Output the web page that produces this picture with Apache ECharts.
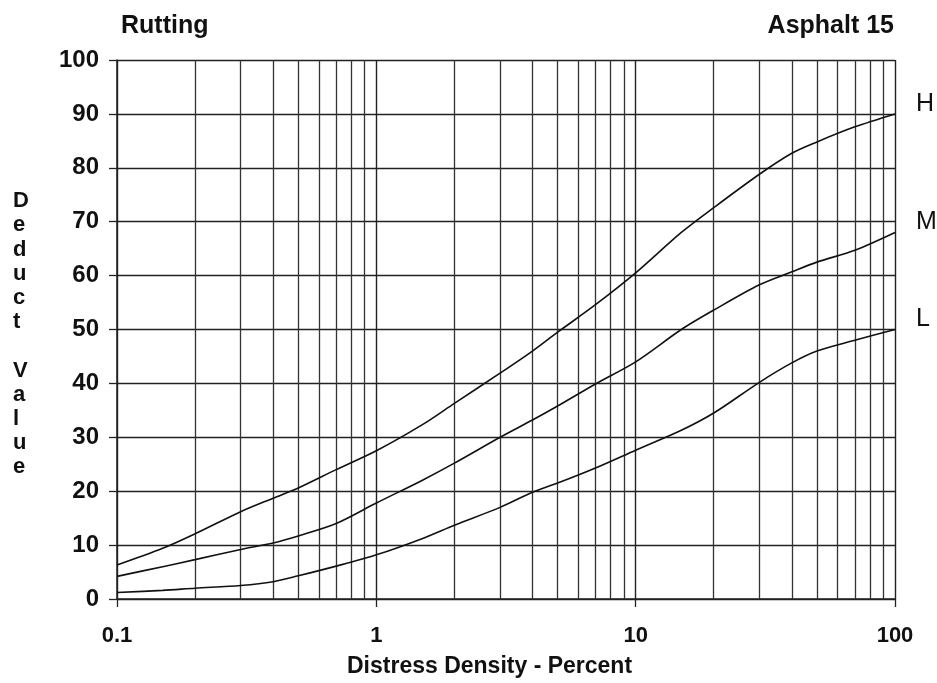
<!DOCTYPE html>
<html>
<head>
<meta charset="utf-8">
<script src="https://cdn.jsdelivr.net/npm/echarts@6/dist/echarts.min.js"></script>
<style>html,body{margin:0;padding:0;background:#fff;}#c{width:937px;height:683px;}</style>
</head>
<body>
<div id="c"></div>
<script>
// Distress density (%) sample points
const density = [0.1, 0.15, 0.2, 0.3, 0.4, 0.5, 0.7, 1, 1.5, 2, 3, 4, 5, 7, 10, 15, 20, 30, 40, 50, 70, 100];
// Deduct values per severity
const high   = [6.3, 9.4, 12.1, 16.2, 18.7, 20.6, 24.0, 27.5, 32.3, 36.3, 41.9, 46.0, 49.5, 54.6, 60.5, 68.0, 72.6, 78.8, 82.7, 84.8, 87.6, 90.0];
const medium = [4.2, 6.0, 7.3, 9.2, 10.4, 11.7, 14.0, 17.8, 22.0, 25.2, 30.0, 33.2, 35.8, 39.9, 44.0, 50.0, 53.6, 58.3, 60.7, 62.5, 64.7, 68.0];
const low    = [1.2, 1.6, 2.0, 2.5, 3.2, 4.3, 6.1, 8.2, 11.2, 13.7, 17.0, 19.8, 21.5, 24.3, 27.6, 31.3, 34.5, 40.2, 43.8, 46.0, 48.0, 50.0];
const seriesNames = ['H', 'M', 'L'];
// Axis ticks
const xTickLabels = ['0.1', '1', '10', '100'];
const xMinorGrid = [0.2,0.3,0.4,0.5,0.6,0.7,0.8,0.9, 2,3,4,5,6,7,8,9, 20,30,40,50,60,70,80,90];
const yTicks = [0,10,20,30,40,50,60,70,80,90,100];
const titleLeft = 'Rutting';
const titleRight = 'Asphalt 15';
const xName = 'Distress Density - Percent';
const yName = 'Deduct Value';

const FONT = 'Liberation Sans';
const chart = echarts.init(document.getElementById('c'));
const mk = (vals) => density.map((d, i) => [d, vals[i]]);
const curveStyle = { color: '#111', width: 1.6 };
const lineSeries = [high, medium, low].map((vals, k) => ({
  name: seriesNames[k],
  type: 'line',
  data: mk(vals),
  smooth: 0.3,
  symbol: 'none',
  lineStyle: curveStyle,
  itemStyle: { color: '#111' },
  silent: true,
  z: 5,
  endLabel: {
    show: true,
    formatter: seriesNames[k],
    fontFamily: FONT,
    fontSize: 25,
    color: '#111',
    offset: [13, -10]
  }
}));
lineSeries.push({
  type: 'line',
  data: [],
  silent: true,
  markLine: {
    silent: true,
    symbol: 'none',
    animation: false,
    label: { show: false },
    lineStyle: { color: '#333', width: 1.3, type: 'solid' },
    data: xMinorGrid.map(v => ({ xAxis: v }))
  }
});

chart.setOption({
  animation: false,
  backgroundColor: '#fff',
  textStyle: { fontFamily: FONT },
  grid: { left: 117, right: 42, top: 60, bottom: 84 },
  graphic: [
    { type: 'text', left: 121, top: 14, style: { text: titleLeft, fontFamily: FONT, fontSize: 25, fontWeight: 'bold', fill: '#111' } },
    { type: 'text', right: 43, top: 14, style: { text: titleRight, fontFamily: FONT, fontSize: 25, fontWeight: 'bold', fill: '#111' } },
    { type: 'text', left: 13, top: 189, style: { text: yName.split('').map(c => c === ' ' ? '' : c).join('\n'), fontFamily: FONT, fontSize: 22, fontWeight: 'bold', fill: '#111', lineHeight: 24.2, align: 'center' } },
    { type: 'text', left: 347, top: 655, style: { text: xName, fontFamily: FONT, fontSize: 23, fontWeight: 'bold', fill: '#111' } }
  ],
  xAxis: {
    type: 'log',
    logBase: 10,
    min: 0.1,
    max: 100,
    axisLine: { show: true, lineStyle: { color: '#222', width: 1.5 } },
    axisTick: { show: true, length: 8, lineStyle: { color: '#222', width: 1.3 } },
    axisLabel: {
      fontFamily: FONT, fontSize: 22, fontWeight: 'bold', color: '#111', margin: 26,
      formatter: (v) => { const s = xTickLabels.find(t => Math.abs(parseFloat(t) - v) < 1e-9); return s || ''; }
    },
    splitLine: { show: true, lineStyle: { color: '#222', width: 1.4 } },
    minorTick: { show: false },
    minorSplitLine: { show: false }
  },
  yAxis: {
    type: 'value',
    min: 0,
    max: 100,
    interval: 10,
    axisLine: { show: true, lineStyle: { color: '#222', width: 1.5 } },
    axisTick: { show: true, length: 8, lineStyle: { color: '#222', width: 1.3 } },
    axisLabel: {
      fontFamily: FONT, fontSize: 24, fontWeight: 'bold', color: '#111', margin: 18,
      formatter: (v) => yTicks.includes(v) ? String(v) : ''
    },
    splitLine: { show: true, lineStyle: { color: '#222', width: 1.4 } }
  },
  series: lineSeries
});
</script>
</body>
</html>
